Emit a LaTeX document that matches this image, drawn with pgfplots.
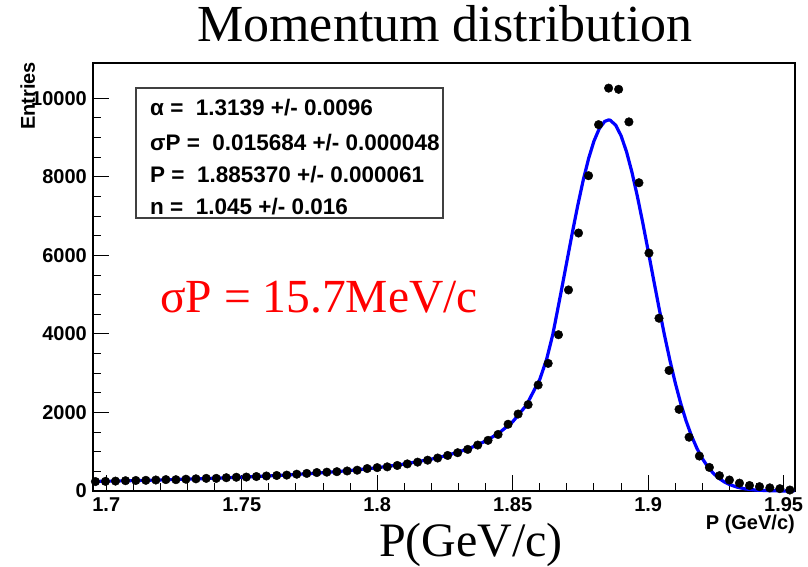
\documentclass[border=0pt]{standalone}
\usepackage{fontspec}
\setmainfont{Liberation Serif}
\newfontfamily\helv{Liberation Sans}
\usepackage{pgfplots}
\pgfplotsset{compat=1.18}
\definecolor{fitblue}{HTML}{0000FF}
\definecolor{annred}{HTML}{FF0000}

\newcommand{\tickfont}{\helv\bfseries\fontsize{20}{24}\selectfont}
\newcommand{\statfont}{\helv\bfseries\fontsize{22.5}{26}\selectfont}

\begin{document}
\begin{tikzpicture}
% canvas = 808x567 px, axis frame lower-left at (93,491) px
\useasboundingbox (-93pt,-76pt) rectangle (715pt,491pt);
\begin{axis}[
    at={(0pt,0pt)}, anchor=south west,
    scale only axis,
    width=702pt, height=428pt,
    xmin=1.6951, xmax=1.9542,
    ymin=0, ymax=10900,
    scaled y ticks=false,
    clip=false,
    axis line style={line width=1.2pt},
    tick style={black, line width=1pt},
    tick align=inside,
    xtick pos=bottom, ytick pos=left,
    major tick length=16pt,
    minor tick length=8pt,
    xtick={1.7,1.75,1.8,1.85,1.9,1.95},
    xticklabels={1.7,1.75,1.8,1.85,1.9,1.95},
    ytick={0,2000,4000,6000,8000,10000},
    yticklabels={0,2000,4000,6000,8000,10000},
    minor x tick num=4,
    minor y tick num=3,
    xticklabel style={font=\tickfont, anchor=base, yshift=-21pt, inner sep=0pt},
    yticklabel style={font=\tickfont, anchor=east, inner sep=0pt, xshift=-6pt},
]
% fitted crystal-ball curve
\addplot[fitblue, line width=3.2pt] coordinates {
    (1.695,242) (1.700,249) (1.710,265) (1.720,282) (1.730,302)
    (1.740,325) (1.750,352) (1.760,383) (1.770,421) (1.780,466)
    (1.790,522) (1.800,593) (1.810,686) (1.820,811) (1.825,893)
    (1.830,992) (1.835,1115) (1.840,1272) (1.845,1478) (1.850,1763)
    (1.855,2179) (1.860,2843) (1.8625,3349) (1.8648,3986) (1.866,4408)
    (1.868,5118) (1.870,5847) (1.872,6572) (1.874,7267) (1.876,7906)
    (1.878,8463) (1.880,8912) (1.882,9235) (1.884,9414) (1.8854,9450)
    (1.886,9442) (1.888,9318) (1.890,9047) (1.892,8643) (1.894,8123)
    (1.896,7511) (1.898,6833) (1.900,6116) (1.902,5386) (1.904,4667)
    (1.906,3978) (1.908,3337) (1.910,2754) (1.912,2236) (1.914,1786)
    (1.916,1404) (1.918,1086) (1.920,826) (1.922,618) (1.924,455)
    (1.926,330) (1.928,235) (1.930,165) (1.933,94) (1.936,52)
    (1.940,22) (1.945,7) (1.950,2) (1.954,0.5)
};
% histogram entries
\addplot[only marks, mark=*, mark size=4.3pt, black] coordinates {
    (1.6960,240) (1.6997,245) (1.7034,252) (1.7071,262) (1.7109,268)
    (1.7146,272) (1.7183,280) (1.7220,290) (1.7257,288) (1.7294,300)
    (1.7331,310) (1.7369,322) (1.7406,322) (1.7443,338) (1.7480,350)
    (1.7517,355) (1.7554,368) (1.7591,382) (1.7629,395) (1.7666,405)
    (1.7703,428) (1.7740,448) (1.7777,470) (1.7814,480) (1.7851,492)
    (1.7889,510) (1.7926,530) (1.7963,572) (1.8000,595) (1.8037,615)
    (1.8074,650) (1.8111,690) (1.8149,735) (1.8186,785) (1.8223,840)
    (1.8260,905) (1.8297,975) (1.8334,1060) (1.8371,1170) (1.8409,1290)
    (1.8446,1440) (1.8483,1700) (1.8520,1960) (1.8557,2200) (1.8594,2700)
    (1.8631,3250) (1.8669,3980) (1.8706,5120) (1.8743,6570) (1.8780,8030)
    (1.8817,9330) (1.8854,10260) (1.8891,10230) (1.8929,9400) (1.8966,7850)
    (1.9003,6060) (1.9040,4400) (1.9077,3070) (1.9114,2080) (1.9151,1370)
    (1.9189,890) (1.9226,600) (1.9263,390) (1.9300,280) (1.9337,200)
    (1.9374,140) (1.9411,110) (1.9449,80) (1.9486,60) (1.9523,25)
};
\end{axis}

% stats box
\draw[line width=1.2pt, black!75] (43pt,273pt) rectangle (350pt,403pt);
\node[anchor=base west, inner sep=0pt, font=\statfont] at (57pt,375.5pt) {α =\ \ 1.3139 +/- 0.0096};
\node[anchor=base west, inner sep=0pt, font=\statfont] at (57pt,340pt) {σP =\ \ 0.015684 +/- 0.000048};
\node[anchor=base west, inner sep=0pt, font=\statfont] at (57pt,308pt) {P =\ \ 1.885370 +/- 0.000061};
\node[anchor=base west, inner sep=0pt, font=\statfont] at (57pt,276.5pt) {n =\ \ 1.045 +/- 0.016};

% axis titles
\node[rotate=90, anchor=base east, inner sep=0pt, font=\tickfont] at (-58pt,429pt) {Entries};
\node[anchor=base east, inner sep=0pt, font=\tickfont] at (702pt,-39pt) {P (GeV/c)};

% slide annotations
\node[anchor=base, inner sep=0pt, font=\fontsize{52}{60}\selectfont] at (352pt,449pt) {Momentum distribution};
\node[anchor=base, inner sep=0pt, text=annred, font=\fontsize{47.5}{56}\selectfont] at (226pt,178pt) {σP = 15.7MeV/c};
\node[anchor=base, inner sep=0pt, font=\fontsize{48}{56}\selectfont] at (378pt,-65pt) {P(GeV/c)};
\end{tikzpicture}
\end{document}
